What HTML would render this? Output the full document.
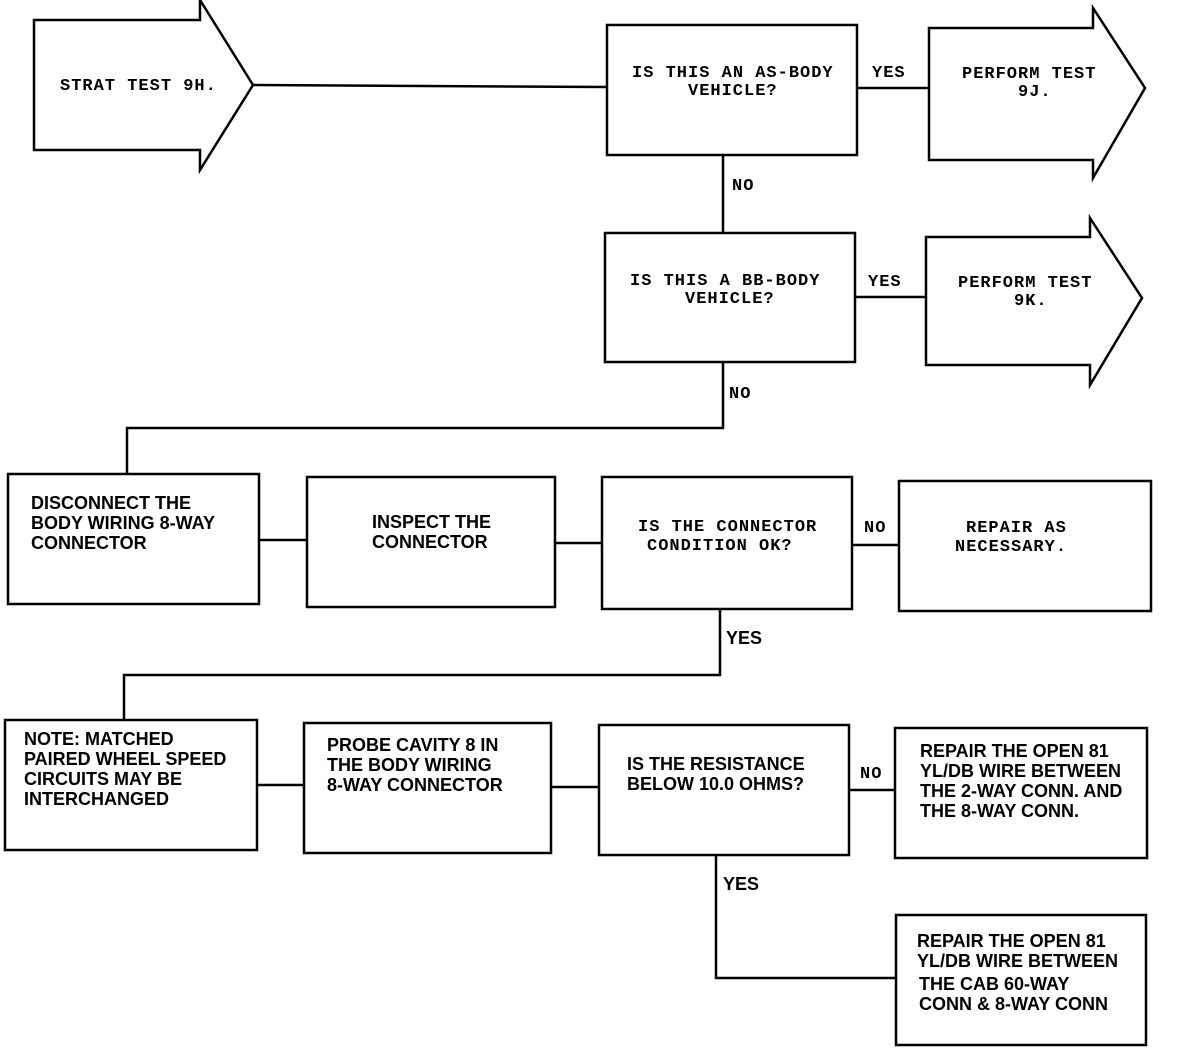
<!DOCTYPE html>
<html><head><meta charset="utf-8"><style>
html,body{margin:0;padding:0;background:#fff}
svg{display:block}
.p{font-family:"Liberation Mono",monospace;font-size:17px;font-weight:bold;letter-spacing:1px;fill:#000}
.b{font-family:"Liberation Sans",sans-serif;font-weight:bold;font-size:18px;fill:#000}
</style></head><body>
<svg width="1184" height="1056" viewBox="0 0 1184 1056" xmlns="http://www.w3.org/2000/svg">
<g fill="none" stroke="#000" stroke-width="2.5">
<polygon points="34,20 200,20 200,0 253,85 200,170 200,150 34,150"/>
<polygon points="929,28 1093,28 1093,8 1145,88 1093,178 1093,160 929,160"/>
<polygon points="926,237 1090,237 1090,218 1142,298 1090,385 1090,365 926,365"/>
<rect x="607" y="25" width="250" height="130"/>
<rect x="605" y="233" width="250" height="129"/>
<rect x="8" y="474" width="251" height="130"/>
<rect x="307" y="477" width="248" height="130"/>
<rect x="602" y="477" width="250" height="132"/>
<rect x="899" y="481" width="252" height="130"/>
<rect x="5" y="720" width="252" height="130"/>
<rect x="304" y="723" width="247" height="130"/>
<rect x="599" y="725" width="250" height="130"/>
<rect x="895" y="728" width="252" height="130"/>
<rect x="896" y="915" width="250" height="130"/>
<polyline points="253,85 607,87"/>
<polyline points="857,88 929,88"/>
<polyline points="723,155 723,233"/>
<polyline points="855,297 926,297"/>
<polyline points="723,362 723,428 127,428 127,474"/>
<polyline points="259,540 307,540"/>
<polyline points="555,543 602,543"/>
<polyline points="852,545 899,545"/>
<polyline points="720,609 720,675 124,675 124,720"/>
<polyline points="257,785 304,785"/>
<polyline points="551,787 599,787"/>
<polyline points="849,790 895,790"/>
<polyline points="716,855 716,978 896,978"/>
</g>
<text class="p" x="60" y="90">STRAT TEST 9H.</text>
<text class="p" x="632" y="77">IS THIS AN AS-BODY</text>
<text class="p" x="688" y="95">VEHICLE?</text>
<text class="p" x="872" y="77">YES</text>
<text class="p" x="962" y="78">PERFORM TEST</text>
<text class="p" x="1018" y="96">9J.</text>
<text class="p" x="732" y="190">NO</text>
<text class="p" x="630" y="285">IS THIS A BB-BODY</text>
<text class="p" x="685" y="303">VEHICLE?</text>
<text class="p" x="868" y="286">YES</text>
<text class="p" x="958" y="287">PERFORM TEST</text>
<text class="p" x="1014" y="305">9K.</text>
<text class="p" x="729" y="398">NO</text>
<text class="b" x="31" y="509">DISCONNECT THE</text>
<text class="b" x="31" y="529">BODY WIRING 8-WAY</text>
<text class="b" x="31" y="549">CONNECTOR</text>
<text class="b" x="372" y="528">INSPECT THE</text>
<text class="b" x="372" y="548">CONNECTOR</text>
<text class="p" x="638" y="531">IS THE CONNECTOR</text>
<text class="p" x="647" y="550">CONDITION OK?</text>
<text class="p" x="864" y="532">NO</text>
<text class="p" x="966" y="532">REPAIR AS</text>
<text class="p" x="955" y="551">NECESSARY.</text>
<text class="b" x="726" y="644">YES</text>
<text class="b" x="24" y="745">NOTE: MATCHED</text>
<text class="b" x="24" y="765">PAIRED WHEEL SPEED</text>
<text class="b" x="24" y="785">CIRCUITS MAY BE</text>
<text class="b" x="24" y="805">INTERCHANGED</text>
<text class="b" x="327" y="751">PROBE CAVITY 8 IN</text>
<text class="b" x="327" y="771">THE BODY WIRING</text>
<text class="b" x="327" y="791">8-WAY CONNECTOR</text>
<text class="b" x="627" y="770">IS THE RESISTANCE</text>
<text class="b" x="627" y="790">BELOW 10.0 OHMS?</text>
<text class="p" x="860" y="778">NO</text>
<text class="b" x="920" y="757">REPAIR THE OPEN 81</text>
<text class="b" x="920" y="777">YL/DB WIRE BETWEEN</text>
<text class="b" x="920" y="797">THE 2-WAY CONN. AND</text>
<text class="b" x="920" y="817">THE 8-WAY CONN.</text>
<text class="b" x="723" y="890">YES</text>
<text class="b" x="917" y="947">REPAIR THE OPEN 81</text>
<text class="b" x="917" y="967">YL/DB WIRE BETWEEN</text>
<text class="b" x="919" y="990">THE CAB 60-WAY</text>
<text class="b" x="919" y="1010">CONN &amp; 8-WAY CONN</text>
</svg>
</body></html>
